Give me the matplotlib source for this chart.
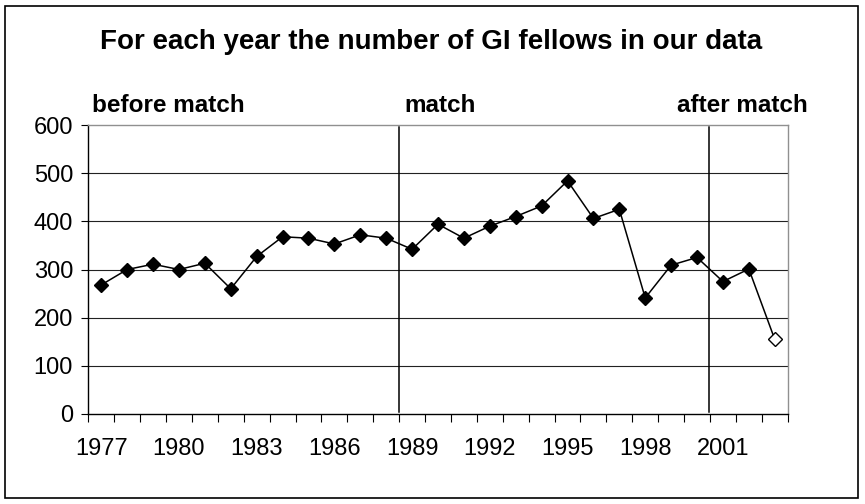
import matplotlib
matplotlib.use("Agg")
import matplotlib.pyplot as plt
from matplotlib.patches import Rectangle

plt.rcParams['font.family'] = ['Liberation Sans', 'DejaVu Sans']

years = list(range(1977, 2004))
fellows = [268, 300, 311, 300, 313, 260, 327, 368, 365, 353, 372, 365,
           342, 394, 365, 390, 410, 432, 484, 406, 425, 241, 309, 325,
           275, 301, 155]
# last year is incomplete, drawn with an open marker
n_full = 26
period_lines = [1988.5, 2000.45]
period_labels = ['before match', 'match', 'after match']
label_x = [92, 404, 677]  # pixel positions of the period labels
xtick_years = years[::3]

fig = plt.figure(figsize=(8.65, 5.04), dpi=100)
ax = fig.add_axes([88.3 / 865, 1 - 414 / 504, (787.7 - 88.3) / 865, (414 - 125) / 504])

xs = [y - 1977 for y in years]
ax.plot(xs, fellows, color='black', lw=1.1, zorder=3)
ax.plot(xs[:n_full], fellows[:n_full], ls='none', marker='D', ms=7,
        mfc='black', mec='black', zorder=4)
ax.plot(xs[n_full:], fellows[n_full:], ls='none', marker='D', ms=7,
        mfc='white', mec='black', mew=1.0, zorder=4)

for p in period_lines:
    ax.plot([p - 1977, p - 1977], [5, 595], color='black', lw=1.1, zorder=2)

ax.set_xlim(-0.5, len(years) - 0.5)
ax.set_ylim(0, 600)
ax.set_yticks(range(0, 601, 100))
for v in range(100, 600, 100):
    ax.axhline(v, color='#222222', lw=0.8, zorder=1)

ax.set_xticks([i - 0.5 for i in range(len(years) + 1)])
ax.set_xticklabels([])
ax.set_xticks([y - 1977 for y in xtick_years], minor=True)
ax.set_xticklabels([str(y) for y in xtick_years], minor=True)
ax.tick_params(axis='x', which='major', direction='out', length=5.5, width=0.8)
ax.tick_params(axis='x', which='minor', length=0, labelsize=17, pad=17)
ax.tick_params(axis='y', direction='out', length=5, width=0.8, labelsize=17, pad=6)

ax.spines['left'].set_color('black')
ax.spines['bottom'].set_color('black')
ax.spines['top'].set_color('#909090')
ax.spines['right'].set_color('#909090')
for s in ax.spines.values():
    s.set_linewidth(1.0)

fig.text(431 / 865, 1 - 42 / 504, 'For each year the number of GI fellows in our data',
         ha='center', va='center', fontsize=20, fontweight='bold')
for lbl, px in zip(period_labels, label_x):
    fig.text(px / 865, 1 - 105 / 504, lbl, ha='left', va='center',
             fontsize=17.5, fontweight='bold')

fig.patches.append(Rectangle((5 / 865, 6 / 504), 853 / 865, 492 / 504,
                             transform=fig.transFigure, fill=False,
                             edgecolor='black', lw=1.2))

fig.savefig('out.png', dpi=100)
